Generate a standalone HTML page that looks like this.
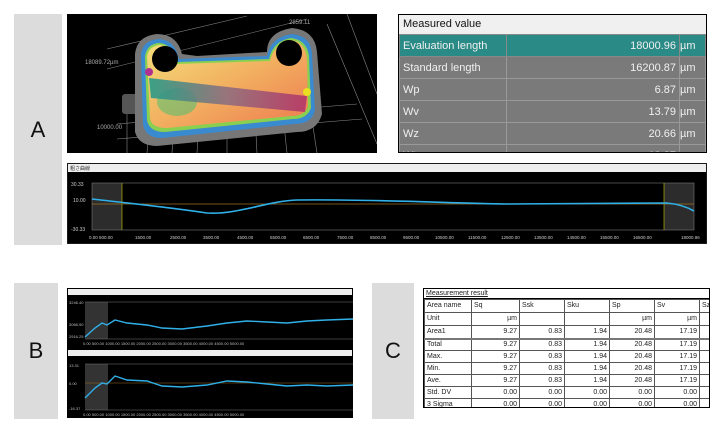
<!DOCTYPE html>
<html><head><meta charset="utf-8"><style>
*{margin:0;padding:0;box-sizing:border-box}
body{width:720px;height:433px;background:#fff;position:relative;overflow:hidden;font-family:"Liberation Sans",sans-serif}
.lab{position:absolute;background:#dcdcdc;color:#111;font-size:22px;display:flex;align-items:center;justify-content:center}
.abs{position:absolute}
table{border-collapse:collapse}
.ct td{border:1px solid #555;padding:0 2px;height:12px;line-height:10px}
</style></head><body>
<div class="lab" style="left:14px;top:14px;width:48px;height:231px">A</div>
<div class="lab" style="left:14px;top:283px;width:44px;height:136px">B</div>
<div class="lab" style="left:372px;top:283px;width:42px;height:136px">C</div>

<svg class="abs" style="left:67px;top:14px" width="310" height="139" viewBox="0 0 310 139">
<defs>
<linearGradient id="gy" x1="0" y1="0" x2="1" y2="1"><stop offset="0" stop-color="#f4e07a"/><stop offset="0.5" stop-color="#f2b060"/><stop offset="1" stop-color="#ee7a50"/></linearGradient>
<linearGradient id="band" x1="0" y1="0" x2="1" y2="0"><stop offset="0" stop-color="#1a9a8a"/><stop offset="0.5" stop-color="#8a6a80"/><stop offset="1" stop-color="#b0306a"/></linearGradient>
</defs>
<rect width="310" height="139" fill="#000"/>
<g stroke="#aaa" stroke-width="0.6" fill="none" opacity="0.8">
<line x1="40" y1="35" x2="180" y2="2"/><line x1="40" y1="55" x2="240" y2="5"/>
<line x1="60" y1="80" x2="60" y2="139"/><line x1="85" y1="70" x2="80" y2="139"/><line x1="110" y1="60" x2="105" y2="139"/>
<line x1="135" y1="55" x2="130" y2="139"/><line x1="160" y1="50" x2="160" y2="139"/><line x1="185" y1="45" x2="190" y2="139"/>
<line x1="210" y1="45" x2="220" y2="139"/><line x1="235" y1="40" x2="250" y2="139"/>
<line x1="50" y1="110" x2="290" y2="90"/><line x1="50" y1="125" x2="295" y2="105"/><line x1="260" y1="10" x2="310" y2="130"/><line x1="280" y1="0" x2="310" y2="80"/>
</g>
<rect x="55" y="80" width="16" height="20" rx="3" fill="#555"/>
<path d="M68 40 Q70 22 90 20 Q110 20 115 40 L130 42 L200 38 Q200 18 225 14 Q248 16 250 38 L255 100 Q250 118 230 118 L90 132 Q72 132 68 118 Z" fill="#777"/>
<path d="M74 40 Q76 26 92 25 Q108 26 112 45 L200 42 Q204 23 225 20 Q244 22 245 40 L248 96 Q245 110 228 110 L95 124 Q78 124 76 110 Z" fill="#3a8ad0"/>
<path d="M78 42 Q80 30 92 29 Q106 30 110 48 L202 45 Q206 27 224 24 Q240 26 242 42 L244 94 Q240 105 226 105 L98 118 Q82 118 80 106 Z" fill="#8ad050"/>
<path d="M80 42 Q82 32 93 31 Q106 32 109 50 L203 47 Q207 29 224 26 Q238 28 240 44 L241 92 Q238 102 224 102 L100 114 Q84 114 83 104 Z" fill="url(#gy)"/>
<circle cx="98" cy="45" r="13" fill="#000"/><circle cx="222" cy="39" r="13" fill="#000"/>
<ellipse cx="110" cy="88" rx="20" ry="14" fill="#40c070" opacity="0.5"/>
<polygon points="82,64 240,82 238,98 84,84" fill="url(#band)" opacity="0.85"/>
<circle cx="82" cy="58" r="4" fill="#b03090"/><circle cx="240" cy="78" r="4" fill="#e8e020"/>
<text x="18" y="50" fill="#aaa" font-size="6">18089.72µm</text>
<text x="30" y="115" fill="#aaa" font-size="6">10000.00</text>
<text x="222" y="10" fill="#aaa" font-size="6">2859.11</text>
</svg>

<div class="abs" style="left:398px;top:14px;width:309px;height:139px;border:1px solid #000;background:#eee;overflow:hidden;font-size:11px">
<div style="height:19px;line-height:19px;padding-left:4px;color:#111;background:#f0f0f0">Measured value</div>
<table style="width:307px;color:#f0f0f0">
<tr style="background:#2a8a86;height:22px"><td style="width:107px;padding-left:3px;border:1px solid #888">Evaluation length</td><td style="text-align:right;padding-right:3px;border:1px solid #888">18000.96</td><td style="width:26px;border:1px solid #888">µm</td></tr>
<tr style="background:#7a7a7a;height:22px"><td style="padding-left:3px;border:1px solid #999">Standard length</td><td style="text-align:right;padding-right:3px;border:1px solid #999">16200.87</td><td style="border:1px solid #999">µm</td></tr>
<tr style="background:#7a7a7a;height:22px"><td style="padding-left:3px;border:1px solid #999">Wp</td><td style="text-align:right;padding-right:3px;border:1px solid #999">6.87</td><td style="border:1px solid #999">µm</td></tr>
<tr style="background:#7a7a7a;height:22px"><td style="padding-left:3px;border:1px solid #999">Wv</td><td style="text-align:right;padding-right:3px;border:1px solid #999">13.79</td><td style="border:1px solid #999">µm</td></tr>
<tr style="background:#7a7a7a;height:22px"><td style="padding-left:3px;border:1px solid #999">Wz</td><td style="text-align:right;padding-right:3px;border:1px solid #999">20.66</td><td style="border:1px solid #999">µm</td></tr>
<tr style="background:#7a7a7a;height:22px"><td style="padding-left:3px;border:1px solid #999">Wt</td><td style="text-align:right;padding-right:3px;border:1px solid #999">19.87</td><td style="border:1px solid #999">µm</td></tr>
</table></div>

<svg class="abs" style="left:67px;top:163px" width="640" height="81" viewBox="0 0 640 81" font-size="5" fill="#ccc">
<rect width="640" height="81" fill="#000" stroke="#333"/>
<rect x="1" y="1" width="638" height="8" fill="#eee"/><text x="3" y="7" fill="#333">粗さ曲線</text>
<rect x="25" y="20" width="30" height="47" fill="#2c2c2c"/><rect x="597" y="20" width="30" height="47" fill="#2c2c2c"/>
<rect x="25" y="20" width="602" height="47" fill="none" stroke="#777" stroke-width="0.6"/>
<line x1="55" y1="20" x2="55" y2="67" stroke="#cc0" stroke-width="0.6"/><line x1="597" y1="20" x2="597" y2="67" stroke="#cc0" stroke-width="0.6"/>
<line x1="25" y1="41" x2="627" y2="41" stroke="#a07020" stroke-width="0.8"/>
<path d="M25 36 C60 40 100 44 140 50 C170 52 200 38 230 37 C300 36 380 40 440 41 C500 41 560 40 600 40 C610 41 620 44 627 48" stroke="#30b0e8" stroke-width="1.6" fill="none"/>
<text x="4" y="23">30.33</text><text x="6" y="39">10.00</text><text x="4" y="68">-30.33</text>
<g font-size="4.5">
<text x="22" y="76">0.00 500.00</text><text x="68" y="76">1500.00</text><text x="103" y="76">2500.00</text><text x="136" y="76">3500.00</text><text x="170" y="76">4500.00</text><text x="203" y="76">5500.00</text><text x="236" y="76">6500.00</text><text x="270" y="76">7500.00</text><text x="303" y="76">8500.00</text><text x="336" y="76">9500.00</text><text x="368" y="76">10500.00</text><text x="401" y="76">11500.00</text><text x="434" y="76">12500.00</text><text x="467" y="76">13500.00</text><text x="500" y="76">14500.00</text><text x="533" y="76">15500.00</text><text x="566" y="76">16500.00</text><text x="614" y="76">18000.96</text></g>
</svg>

<svg class="abs" style="left:67px;top:288px" width="286" height="130" viewBox="0 0 286 130" font-size="4" fill="#bbb">
<rect width="286" height="130" fill="#000"/>
<rect x="1" y="1" width="284" height="6" fill="#eee"/><rect x="1" y="62" width="284" height="6" fill="#eee"/>
<rect x="18" y="14" width="23" height="37" fill="#333"/><rect x="18" y="76" width="23" height="46" fill="#333"/>
<line x1="18" y1="14" x2="286" y2="14" stroke="#777" stroke-width="0.5"/><line x1="18" y1="51" x2="286" y2="51" stroke="#777" stroke-width="0.5"/>
<line x1="18" y1="76" x2="286" y2="76" stroke="#777" stroke-width="0.5"/><line x1="18" y1="122" x2="286" y2="122" stroke="#777" stroke-width="0.5"/>
<line x1="18" y1="95" x2="286" y2="95" stroke="#a07020" stroke-width="0.5"/>
<path d="M18 49 L28 40 L35 35 L40 37 L48 32 L60 35 L80 37 L95 40 L115 41 L140 38 L160 35 L180 33 L200 34 L220 35 L240 33 L260 32 L286 31" stroke="#30b0e8" stroke-width="1.4" fill="none"/>
<path d="M18 110 L28 100 L35 95 L40 96 L48 88 L60 92 L80 93 L95 98 L115 99 L140 97 L160 93 L180 94 L200 96 L220 98 L240 97 L260 98 L286 97" stroke="#30b0e8" stroke-width="1.4" fill="none"/>
<text x="2" y="16">3246.40</text><text x="2" y="38">3066.90</text><text x="2" y="50">2916.25</text>
<text x="2" y="79">13.31</text><text x="2" y="97">0.00</text><text x="2" y="122">-16.37</text>
<text x="16" y="57">0.00 500.00 1000.00 1500.00 2000.00 2500.00 3000.00 3500.00 4000.00 4500.00 5000.00</text>
<text x="16" y="128">0.00 500.00 1000.00 1500.00 2000.00 2500.00 3000.00 3500.00 4000.00 4500.00 5000.00</text>
</svg>

<div class="abs" style="left:423px;top:288px;width:287px;height:120px;border:1px solid #000;overflow:hidden;font-size:7px;color:#222;background:#fff">
<div style="height:10px;line-height:9px;padding-left:2px;text-decoration:underline;border-bottom:1px solid #000">Measurement result</div>
<table class="ct" style="width:300px">
<colgroup><col style="width:47px"><col style="width:48px"><col style="width:45px"><col style="width:45px"><col style="width:45px"><col style="width:45px"><col></colgroup>
<tr><td style="height:13px">Area name</td><td>Sq</td><td>Ssk</td><td>Sku</td><td>Sp</td><td>Sv</td><td style="border-right:0">Sz</td></tr>
<tr><td style="height:13px">Unit</td><td align="right">µm</td><td></td><td></td><td align="right">µm</td><td align="right">µm</td><td style="border-right:0"></td></tr>
<tr style="border-bottom:2px solid #777"><td style="height:13px">Area1</td><td align="right">9.27</td><td align="right">0.83</td><td align="right">1.94</td><td align="right">20.48</td><td align="right">17.19</td><td style="border-right:0"></td></tr>
<tr><td>Total</td><td align="right">9.27</td><td align="right">0.83</td><td align="right">1.94</td><td align="right">20.48</td><td align="right">17.19</td><td style="border-right:0"></td></tr>
<tr><td>Max.</td><td align="right">9.27</td><td align="right">0.83</td><td align="right">1.94</td><td align="right">20.48</td><td align="right">17.19</td><td style="border-right:0"></td></tr>
<tr><td>Min.</td><td align="right">9.27</td><td align="right">0.83</td><td align="right">1.94</td><td align="right">20.48</td><td align="right">17.19</td><td style="border-right:0"></td></tr>
<tr><td>Ave.</td><td align="right">9.27</td><td align="right">0.83</td><td align="right">1.94</td><td align="right">20.48</td><td align="right">17.19</td><td style="border-right:0"></td></tr>
<tr><td>Std. DV</td><td align="right">0.00</td><td align="right">0.00</td><td align="right">0.00</td><td align="right">0.00</td><td align="right">0.00</td><td style="border-right:0"></td></tr>
<tr><td>3 Sigma</td><td align="right">0.00</td><td align="right">0.00</td><td align="right">0.00</td><td align="right">0.00</td><td align="right">0.00</td><td style="border-right:0"></td></tr>
</table></div>
</body></html>
